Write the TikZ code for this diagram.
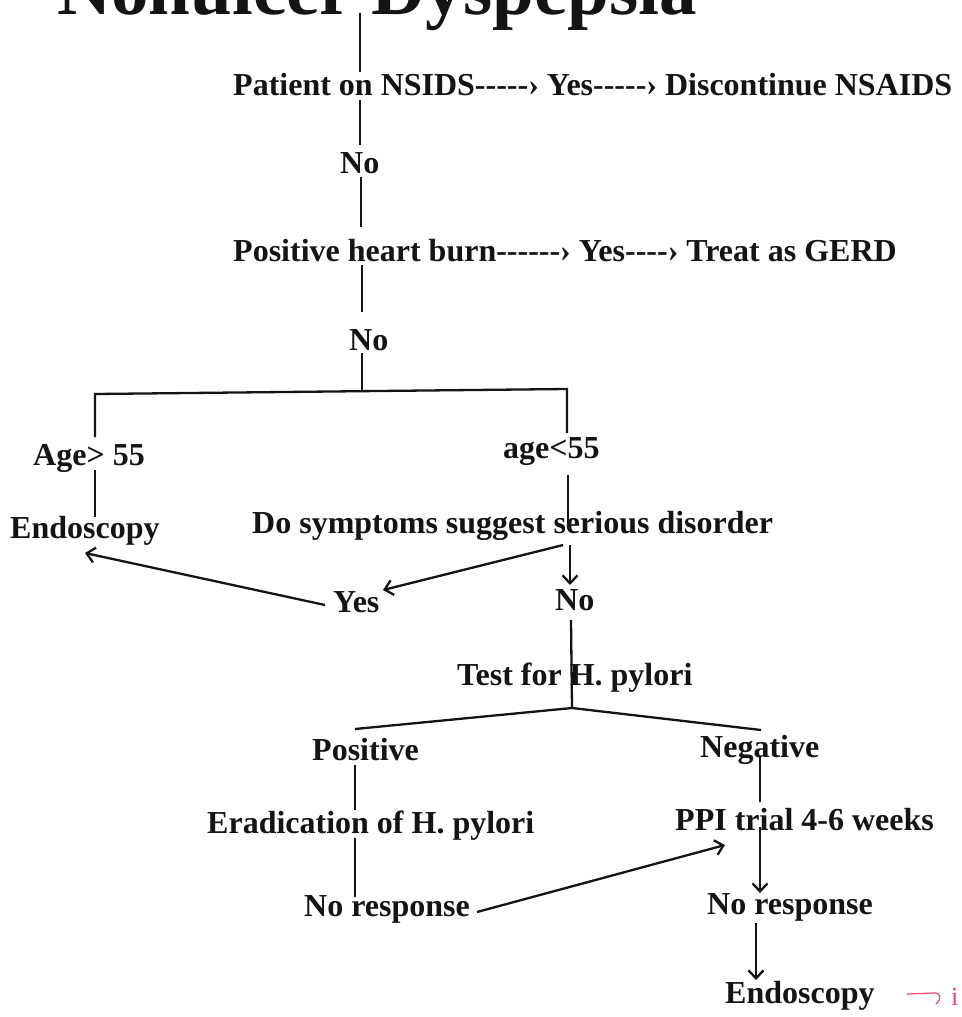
\documentclass[tikz,border=0pt]{standalone}
\usepackage{fontspec}
\setmainfont{Liberation Serif}
\usetikzlibrary{arrows.meta}
\definecolor{ink}{RGB}{20,20,20}
\definecolor{pen}{RGB}{232,70,110}
\newcommand{\dsh}{{-}}
\begin{document}
\begin{tikzpicture}[x=1pt,y=-1pt,
  txt/.style={font=\bfseries\fontsize{32}{36}\selectfont, text=ink, inner sep=0pt, anchor=base west},
  ttl/.style={font=\bfseries\fontsize{75}{80}\selectfont, text=ink, inner sep=0pt, anchor=base west},
  ln/.style={draw=ink, line width=2.3pt},
  arr/.style={ln, -{Straight Barb[length=8pt,width=15pt,line width=2.3pt]}},
  redmark/.style={draw=pen, line width=1.2pt, line cap=round}]
\useasboundingbox (0,0) rectangle (961,1017);
\fill[white] (0,0) rectangle (961,1017);

% texts
\node[ttl] (title) at (57,14) {Nonulcer Dyspepsia};
\node[txt] (nsaid) at (233,95) {Patient on NSIDS\dsh\dsh\dsh\dsh\dsh› Yes\dsh\dsh\dsh\dsh\dsh› Discontinue NSAIDS};
\node[txt] (no1) at (340,173) {No};
\node[txt] (heart) at (233,261) {Positive heart burn\dsh\dsh\dsh\dsh\dsh\dsh› Yes\dsh\dsh\dsh\dsh› Treat as GERD};
\node[txt] (no2) at (349,350) {No};
\node[txt] (old) at (33,465) {Age> 55};
\node[txt] (young) at (503,458) {age<55};
\node[txt] (endo1) at (10,538) {Endoscopy};
\node[txt] (symp) at (252,533) {Do symptoms suggest serious disorder};
\node[txt] (yes) at (333,612) {Yes};
\node[txt] (no3) at (555,610) {No};
\node[txt] (test) at (457,685) {Test for H. pylori};
\node[txt] (pos) at (312,760) {Positive};
\node[txt] (neg) at (700,757) {Negative};
\node[txt] (erad) at (207,833) {Eradication of H. pylori};
\node[txt] (ppi) at (675,830) {PPI trial 4-6 weeks};
\node[txt] (nr1) at (304,916) {No response};
\node[txt] (nr2) at (707,914) {No response};
\node[txt] (endo2) at (725,1003) {Endoscopy};

% connector end points
\coordinate (m0) at (360,13);  \coordinate (m1) at (360,72);
\coordinate (m2) at (360,100); \coordinate (m3) at (360,145);
\coordinate (m4) at (361,177); \coordinate (m5) at (361,227);
\coordinate (m6) at (362,265); \coordinate (m7) at (362,312);
\coordinate (m8) at (362,353); \coordinate (m9) at (362,391.5);
\coordinate (bl) at (95,394);  \coordinate (br) at (567,389);
\coordinate (l1) at (95,437);  \coordinate (l2) at (95,470); \coordinate (l3) at (95,517);
\coordinate (r1) at (567,433); \coordinate (r2) at (568,475); \coordinate (r3) at (568,523);
\coordinate (s0) at (563,545); \coordinate (yh) at (383,590);
\coordinate (y0) at (325,605); \coordinate (eh) at (85,553);
\coordinate (d0) at (570,545); \coordinate (dh) at (570,585);
\coordinate (n0) at (571,620); \coordinate (j) at (572,708);
\coordinate (pl) at (355,729); \coordinate (pr) at (761,730);
\coordinate (p1) at (355,765); \coordinate (p2) at (355,810);
\coordinate (p3) at (355,838); \coordinate (p4) at (355,897);
\coordinate (q1) at (760,757); \coordinate (q2) at (760,802);
\coordinate (q3) at (760,827); \coordinate (qh) at (760,893);
\coordinate (w0) at (477,912); \coordinate (wh) at (725,845);
\coordinate (z0) at (756,923); \coordinate (zh) at (756,980);

% connectors
\draw[ln] (m0) -- (m1);
\draw[ln] (m2) -- (m3);
\draw[ln] (m4) -- (m5);
\draw[ln] (m6) -- (m7);
\draw[ln] (m8) -- (m9);
\draw[ln] (l1) -- (bl) -- (br) -- (r1);
\draw[ln] (l2) -- (l3);
\draw[ln] (r2) -- (r3);
\draw[arr] (s0) -- (yh);
\draw[arr] (y0) -- (eh);
\draw[arr] (d0) -- (dh);
\draw[ln] (n0) -- (j);
\draw[ln] (pl) -- (j) -- (pr);
\draw[ln] (p1) -- (p2);
\draw[ln] (p3) -- (p4);
\draw[ln] (q1) -- (q2);
\draw[arr] (q3) -- (qh);
\draw[arr] (w0) -- (wh);
\draw[arr] (z0) -- (zh);

% red pen annotation
\draw[redmark] (907,994) -- (933,993) .. controls (941,992) and (942,999) .. (936,1004);
\node[txt, font=\fontsize{26}{28}\selectfont, text=pen] (pennote) at (951,1005) {i};
\end{tikzpicture}
\end{document}
